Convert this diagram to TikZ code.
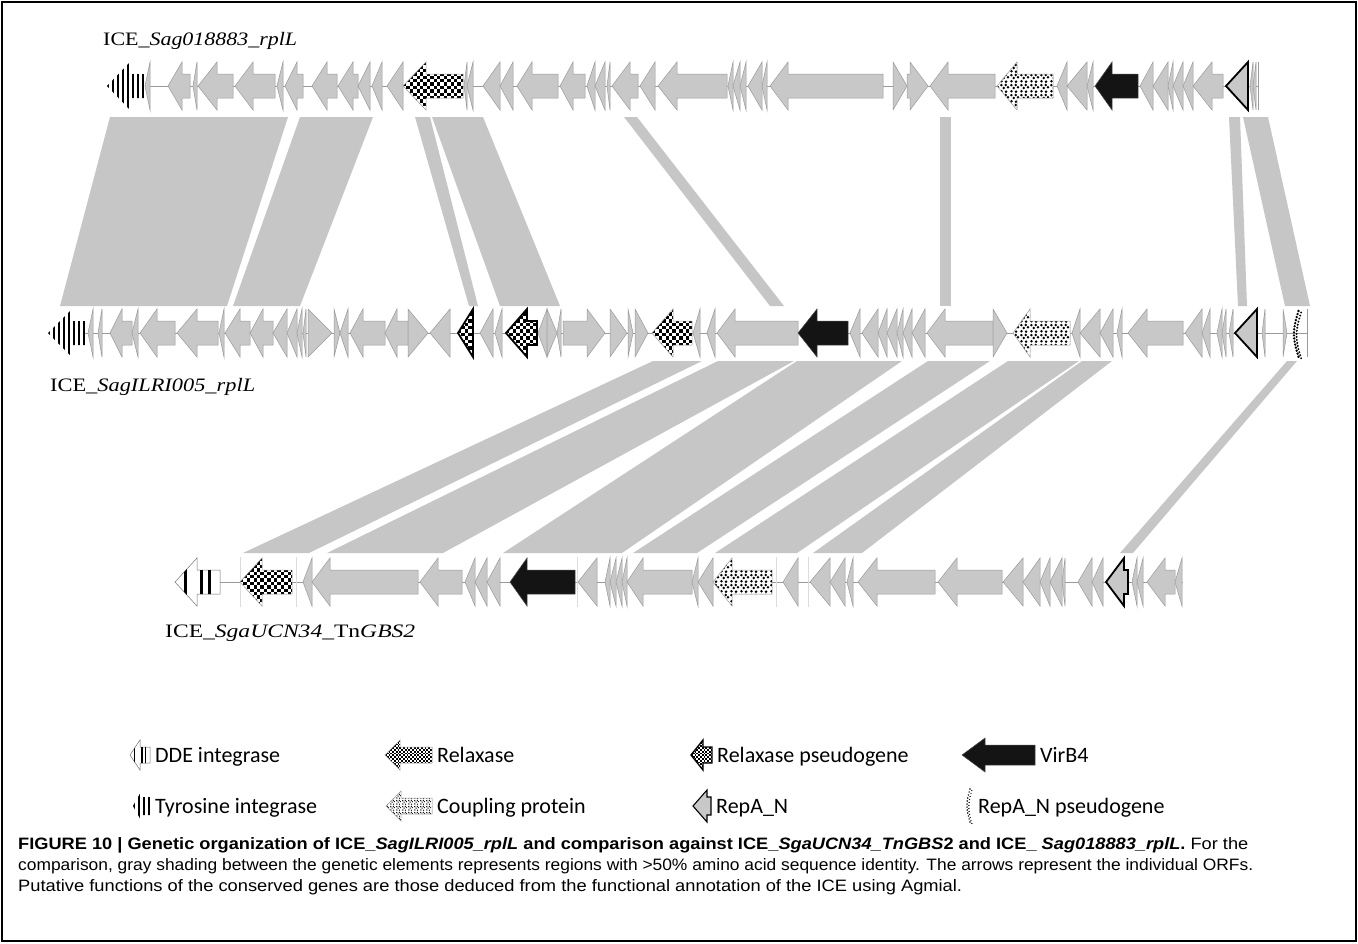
\documentclass[tikz,border=0pt]{standalone}
\usepackage{fontspec}
\usepackage{graphicx}
\setmainfont{Liberation Serif}
\newfontfamily\calib{Carlito}
\newfontfamily\arialf{Liberation Sans}
\usetikzlibrary{patterns.meta}
\definecolor{geneg}{HTML}{C8C8C8}
\definecolor{geneline}{HTML}{9A9A9A}
\definecolor{bandg}{HTML}{C6C6C6}
\definecolor{sepg}{HTML}{DCDCDC}
\tikzdeclarepattern{name=dts, type=uncolored, bounding box={(0pt,0pt) and (10pt,10pt)}, tile size={(10pt,10pt)},
  code={\fill (1.6pt,1.8pt) circle (1.5pt); \fill (6.6pt,1.4pt) circle (1.5pt); \fill (4.1pt,5.4pt) circle (1.5pt);
        \fill (8.6pt,6.2pt) circle (1.5pt); \fill (1.5pt,8.5pt) circle (1.5pt); \fill (6.2pt,8.7pt) circle (1.5pt);}}
\tikzdeclarepattern{name=dtss, type=uncolored, bounding box={(0pt,0pt) and (6pt,6pt)}, tile size={(6pt,6pt)},
  code={\fill (1pt,1.2pt) circle (0.8pt); \fill (4pt,0.9pt) circle (0.8pt); \fill (2.4pt,3.3pt) circle (0.8pt);
        \fill (5pt,3.8pt) circle (0.8pt); \fill (0.9pt,5pt) circle (0.8pt); \fill (3.8pt,5.3pt) circle (0.8pt);}}
\tikzset{
  gene/.style={fill=geneg, draw=geneline, line width=0.5pt, line join=miter},
  relaxb/.style={draw=geneline, line width=0.5pt},
  rpseb/.style={draw=black, line width=1.8pt, line join=miter},
  rpsesb/.style={draw=black, line width=1.4pt, line join=miter},
  coup/.style={preaction={fill=white}, pattern=dts, pattern color=black, draw=geneline, line width=0.5pt},
  coups/.style={preaction={fill=white}, pattern=dtss, pattern color=black, draw=geneline, line width=0.5pt},
  virb/.style={fill=black!92, draw=black!70, line width=0.5pt},
  repa/.style={fill=geneg, draw=black, line width=1.8pt, line join=miter},
  repas/.style={fill=geneg, draw=black, line width=1.1pt, line join=miter},
  backb/.style={draw=geneline, line width=0.6pt},
  band/.style={fill=bandg, draw=none},
  sep/.style={draw=sepg, line width=0.8pt},
  lbl/.style={anchor=base west, inner sep=0pt},
}
\def\ty{86}\def\HH{24}\def\hh{12}
\newcommand\ArL[4][gene]{\path[#1] (#2,\ty) -- (#3,\ty-\HH) -- (#3,\ty-\hh) -- (#4,\ty-\hh) -- (#4,\ty+\hh) -- (#3,\ty+\hh) -- (#3,\ty+\HH) -- cycle;}
\newcommand\TrL[3][gene]{\path[#1] (#2,\ty) -- (#3,\ty-\HH) -- (#3,\ty+\HH) -- cycle;}
\newcommand\ArR[4][gene]{\path[#1] (#2,\ty-\hh) -- (#3,\ty-\hh) -- (#3,\ty-\HH) -- (#4,\ty) -- (#3,\ty+\HH) -- (#3,\ty+\hh) -- (#2,\ty+\hh) -- cycle;}
\newcommand\TrR[3][gene]{\path[#1] (#2,\ty-\HH) -- (#3,\ty) -- (#2,\ty+\HH) -- cycle;}
% checker grid (call inside a clipped scope)
\newcommand\ChkGrid[3]{%
  \pgfmathtruncatemacro\nx{(#2-#1)/(2*#3)+1}%
  \pgfmathtruncatemacro\ny{2*\HH/#3+1}%
  \foreach \j in {0,...,\ny}{\foreach \k in {0,...,\nx}{%
    \fill[black] ({#1+(2*\k+mod(\j,2))*#3},{\ty-\HH+\j*#3}) rectangle +(#3,#3);}}}
% checkered left arrow: tip, head base, end, cell, border style
\newcommand\ChkArL[5]{%
  \path[fill=white] (#1,\ty) -- (#2,\ty-\HH) -- (#2,\ty-\hh) -- (#3,\ty-\hh) -- (#3,\ty+\hh) -- (#2,\ty+\hh) -- (#2,\ty+\HH) -- cycle;
  \begin{scope}
  \clip (#1,\ty) -- (#2,\ty-\HH) -- (#2,\ty-\hh) -- (#3,\ty-\hh) -- (#3,\ty+\hh) -- (#2,\ty+\hh) -- (#2,\ty+\HH) -- cycle;
  \ChkGrid{#1}{#3}{#4}
  \end{scope}
  \path[#5] (#1,\ty) -- (#2,\ty-\HH) -- (#2,\ty-\hh) -- (#3,\ty-\hh) -- (#3,\ty+\hh) -- (#2,\ty+\hh) -- (#2,\ty+\HH) -- cycle;}
\newcommand\ChkTrL[4]{%
  \path[fill=white] (#1,\ty) -- (#2,\ty-\HH) -- (#2,\ty+\HH) -- cycle;
  \begin{scope}
  \clip (#1,\ty) -- (#2,\ty-\HH) -- (#2,\ty+\HH) -- cycle;
  \ChkGrid{#1}{#2}{#3}
  \end{scope}
  \path[#4] (#1,\ty) -- (#2,\ty-\HH) -- (#2,\ty+\HH) -- cycle;}
\newcommand\TyrInt[3]{%
  \begin{scope}
  \clip (#1,\ty) -- (#2,\ty-\HH) -- (#2,\ty-\hh) -- (#3,\ty-\hh) -- (#3,\ty+\hh) -- (#2,\ty+\hh) -- (#2,\ty+\HH) -- cycle;
  \pgfmathtruncatemacro\nst{(#3-#1)/5}
  \foreach \s in {0,...,\nst}{\fill[black] ({#1+\s*5},\ty-30) rectangle ({#1+\s*5+2.1},\ty+30);}
  \end{scope}}
\newcommand\DDEInt[3]{%
  \path[fill=white, draw=black!55, line width=0.5pt] (#1,\ty) -- (#2,\ty-\HH) -- (#2,\ty-\hh) -- (#3,\ty-\hh) -- (#3,\ty+\hh) -- (#2,\ty+\hh) -- (#2,\ty+\HH) -- cycle;
  \begin{scope}
  \clip (#1,\ty) -- (#2,\ty-\HH) -- (#2,\ty-\hh) -- (#3,\ty-\hh) -- (#3,\ty+\hh) -- (#2,\ty+\hh) -- (#2,\ty+\HH) -- cycle;
  \fill[black] ({#1+0.19*(#3-#1)},\ty-30) rectangle ({#1+0.27*(#3-#1)},\ty+30);
  \fill[black] ({#1+0.56*(#3-#1)},\ty-30) rectangle ({#1+0.63*(#3-#1)},\ty+30);
  \fill[black] ({#1+0.74*(#3-#1)},\ty-30) rectangle ({#1+0.81*(#3-#1)},\ty+30);
  \end{scope}}
\begin{document}
\begin{tikzpicture}[x=1pt,y=-1pt]
\useasboundingbox (0,0) rectangle (1358,943);
\fill[white] (0,0) rectangle (1358,943);

% ---------------- shading bands, top -> middle
\path[band] (110,117) -- (288,117) -- (227,306) -- (60,306) -- cycle;
\path[band] (300,117) -- (373,117) -- (300,306) -- (233,306) -- cycle;
\path[band] (415,117) -- (430,117) -- (478,306) -- (469,306) -- cycle;
\path[band] (432,117) -- (483,117) -- (560,306) -- (500,306) -- cycle;
\path[band] (624,117) -- (637,117) -- (784,306) -- (770,306) -- cycle;
\path[band] (940,117) -- (951,117) -- (951,306) -- (940,306) -- cycle;
\path[band] (1229,117) -- (1240,117) -- (1247,306) -- (1238,306) -- cycle;
\path[band] (1243,117) -- (1268,117) -- (1310,306) -- (1285,306) -- cycle;
% ---------------- shading bands, middle -> bottom
\path[band] (653,361) -- (702,361) -- (309,553) -- (243,553) -- cycle;
\path[band] (718,361) -- (794,361) -- (443,553) -- (327,553) -- cycle;
\path[band] (797,361) -- (902,361) -- (622,553) -- (503,553) -- cycle;
\path[band] (928,361) -- (990,361) -- (697,553) -- (633,553) -- cycle;
\path[band] (1008,361) -- (1079,361) -- (797,553) -- (715,553) -- cycle;
\path[band] (1082,361) -- (1112,361) -- (862,553) -- (813,553) -- cycle;
\path[band] (1287,361) -- (1297,361) -- (1133,553) -- (1120,553) -- cycle;

% ---------------- top track: ICE_Sag018883_rplL
\def\ty{86}
\draw[backb] (145,\ty) -- (1258,\ty);
\draw[backb] (1258,\ty-24) -- (1258,\ty+24);
\TyrInt{107}{130}{145}
\TrL{145}{150}
\ArL{168}{182}{190}
\TrL{193}{197}
\ArL{198}{217}{233}
\ArL{235}{253}{275}
\TrL{277}{283}
\ArL{285}{297}{303}
\ArL{312}{327}{337}
\ArL{338}{353}{358}
\TrL{358}{370}
\TrL{372}{382}
\TrL{387}{403}
\ChkArL{403}{426}{463}{3.4}{relaxb}
\TrL{464}{467}
\TrL{467}{473}
\TrL{483}{500}
\TrL{500}{513}
\ArL{517}{532}{558}
\ArL{560}{573}{585}
\TrL{587}{595}
\TrL{595}{605}
\TrL{607}{610}
\ArL{612}{630}{638}
\TrL{640}{655}
\ArL{658}{677}{727}
\TrL{728}{733}
\TrL{733}{740}
\TrL{740}{746}
\TrL{748}{762}
\TrL{762}{767}
\ArL{770}{788}{883}
\TrR{893}{907}
\ArR{907}{910}{928}
\ArL{930}{948}{995}
\ArL[coup]{997}{1017}{1053}
\TrL{1057}{1067}
\TrL{1067}{1087}
\TrL{1087}{1093}
\ArL[virb]{1095}{1112}{1138}
\TrL{1140}{1153}
\TrL{1153}{1168}
\TrL{1168}{1173}
\TrL{1173}{1183}
\TrL{1183}{1193}
\ArL{1193}{1212}{1223}
\TrL[repa]{1226}{1248}
\TrL{1250}{1253}
\TrL{1253}{1256}
\node[lbl] (lab1) at (103,45) {\resizebox{194pt}{\height}{\fontsize{19}{22}\selectfont ICE\_\textit{Sag018883\_rplL}}};

% ---------------- middle track: ICE_SagILRI005_rplL
\def\ty{333}
\draw[backb] (85,\ty) -- (1307,\ty);
\draw[backb] (1307,\ty-24) -- (1307,\ty+24);
\TyrInt{48}{72}{85}
\TrL{88}{93}
\TrL{98}{102}
\ArL{110}{122}{132}
\TrL{132}{138}
\ArL{140}{157}{175}
\ArL{177}{197}{218}
\TrL{219}{224}
\ArL{225}{240}{250}
\ArL{250}{263}{273}
\TrL{273}{287}
\TrL{287}{297}
\TrL{297}{302}
\TrL{303}{306}
\TrR{308}{332}
\TrR{334}{340}
\TrL{340}{348}
\ArL{350}{363}{385}
\ArL{385}{397}{408}
\TrR{408}{428}
\TrL{430}{450}
\ChkTrL{458}{473}{3.4}{rpseb}
\TrL{480}{493}
\TrL{495}{502}
\ChkArL{506}{527}{537}{3.4}{rpseb}
\TrL{538}{547}
\TrR{547}{557}
\TrL{557}{561}
\ArR{563}{587}{605}
\TrR{610}{627}
\TrR{628}{633}
\TrR{635}{648}
\ChkArL{652}{673}{692}{3.4}{relaxb}
\TrL{693}{700}
\TrL{707}{715}
\ArL{717}{735}{798}
\ArL[virb]{798}{817}{848}
\TrL{850}{860}
\TrL{862}{878}
\TrL{878}{887}
\TrL{887}{897}
\TrL{897}{903}
\TrL{903}{912}
\TrL{912}{925}
\ArL{927}{945}{993}
\TrR{993}{1007}
\ArL[coup]{1013}{1030}{1070}
\TrL{1072}{1080}
\TrL{1080}{1100}
\TrL{1100}{1113}
\TrL{1117}{1122}
\ArL{1128}{1147}{1183}
\TrL{1185}{1202}
\TrL{1202}{1210}
\TrL{1217}{1222}
\TrL{1222}{1226}
\TrL{1229}{1233}
\TrL[repa]{1235}{1257}
\TrL{1262}{1265}
\TrR{1283}{1287}
\foreach \t in {0,...,15}{
  \pgfmathsetmacro\yy{311+\t*3.05}
  \pgfmathsetmacro\xx{1298.5-4.5*sin(\t*12)}
  \fill[black] (\xx,\yy) circle (1.3);
  \fill[black] (\xx+2.6,\yy+1.5) circle (1.1);}
\node[lbl] (lab2) at (50,391) {\resizebox{205pt}{\height}{\fontsize{19}{22}\selectfont ICE\_\textit{SagILRI005\_rplL}}};

% ---------------- bottom track: ICE_SgaUCN34_TnGBS2
\def\ty{582}
\draw[backb] (220,\ty) -- (1183,\ty);
\foreach \sx in {240,296,577,776,808}{\draw[sep] (\sx,\ty-25) -- (\sx,\ty+25);}
\DDEInt{175}{197}{220}
\ChkArL{240}{262}{292}{3.4}{relaxb}
\TrL{303}{312}
\ArL{312}{330}{418}
\ArL{420}{438}{462}
\TrL{465}{475}
\TrL{475}{487}
\TrL{487}{500}
\ArL[virb]{510}{527}{575}
\TrL{578}{597}
\TrL{605}{610}
\TrL{610}{616}
\TrL{616}{622}
\TrL{622}{627}
\ArL{627}{643}{692}
\TrL{692}{698}
\TrL{698}{713}
\ArL[coup]{713}{732}{772}
\TrL{783}{798}
\TrL{810}{830}
\TrL{830}{845}
\TrL{847}{853}
\ArL{858}{877}{935}
\ArL{938}{957}{1002}
\TrL{1003}{1023}
\TrL{1023}{1040}
\TrL{1040}{1050}
\TrL{1050}{1062}
\TrL{1062}{1065}
\TrL{1078}{1092}
\TrL{1092}{1103}
\ArL[repa]{1106}{1124}{1128}
\TrL{1132}{1137}
\TrL{1137}{1143}
\ArL{1147}{1165}{1175}
\TrL{1175}{1182}
\node[lbl] (lab3) at (165,637) {\resizebox{250pt}{\height}{\fontsize{19}{22}\selectfont ICE\_\textit{SgaUCN34}\_Tn\textit{GBS2}}};

% ---------------- legend
\def\HH{15}\def\hh{8}
\def\ty{755}
\DDEInt{130}{140}{150}
\ChkArL{385}{400}{432}{1.8}{relaxb}
\ChkArL{691}{703}{712}{1.8}{rpsesb}
{\def\HH{17}\def\hh{10}\ArL[virb]{962}{985}{1035}}
\def\ty{806}
{\def\HH{16}\def\hh{9}\TyrInt{133}{142}{150}}
\ArL[coups]{386}{401}{432}
{\def\HH{16}\def\hh{9}\ArL[repas]{693}{707}{711}}
\foreach \t in {0,...,11}{
  \pgfmathsetmacro\yy{789+\t*3}
  \pgfmathsetmacro\xx{970-3*sin(\t*16.4)}
  \fill[black] (\xx,\yy) circle (0.8);
  \fill[black] (\xx+1.8,\yy+1.5) circle (0.7);}
\node[lbl] (lg1) at (155,762) {\calib\fontsize{22}{26}\selectfont DDE integrase};
\node[lbl] (lg2) at (155,813) {\calib\fontsize{22}{26}\selectfont Tyrosine integrase};
\node[lbl] (lg3) at (437,762) {\calib\fontsize{22}{26}\selectfont Relaxase};
\node[lbl] (lg4) at (437,813) {\calib\fontsize{22}{26}\selectfont Coupling protein};
\node[lbl] (lg5) at (717,762) {\calib\fontsize{22}{26}\selectfont Relaxase pseudogene};
\node[lbl] (lg6) at (716,813) {\calib\fontsize{22}{26}\selectfont RepA\_N};
\node[lbl] (lg7) at (1040,762) {\calib\fontsize{22}{26}\selectfont VirB4};
\node[lbl] (lg8) at (978,813) {\calib\fontsize{22}{26}\selectfont RepA\_N pseudogene};

% ---------------- caption
\node[lbl] (cap1) at (18,849) {\resizebox{1230pt}{\height}{\arialf\fontsize{16.5}{19}\selectfont\textbf{FIGURE 10 | Genetic organization of ICE\_\textit{SagILRI005\_rplL} and comparison against ICE\_\textit{SgaUCN34\_TnGBS}2 and ICE\_ \textit{Sag018883\_rplL}.} For the}};
\node[lbl] (cap2) at (18,870) {\resizebox{1235pt}{\height}{\arialf\fontsize{16.5}{19}\selectfont comparison, gray shading between the genetic elements represents regions with >50\% amino acid sequence identity. The arrows represent the individual ORFs.}};
\node[lbl] (cap3) at (18,891) {\resizebox{944pt}{\height}{\arialf\fontsize{16.5}{19}\selectfont Putative functions of the conserved genes are those deduced from the functional annotation of the ICE using Agmial.}};

% ---------------- frame
\draw[line width=2pt] (2,2) rectangle (1356,941);
\end{tikzpicture}
\end{document}
